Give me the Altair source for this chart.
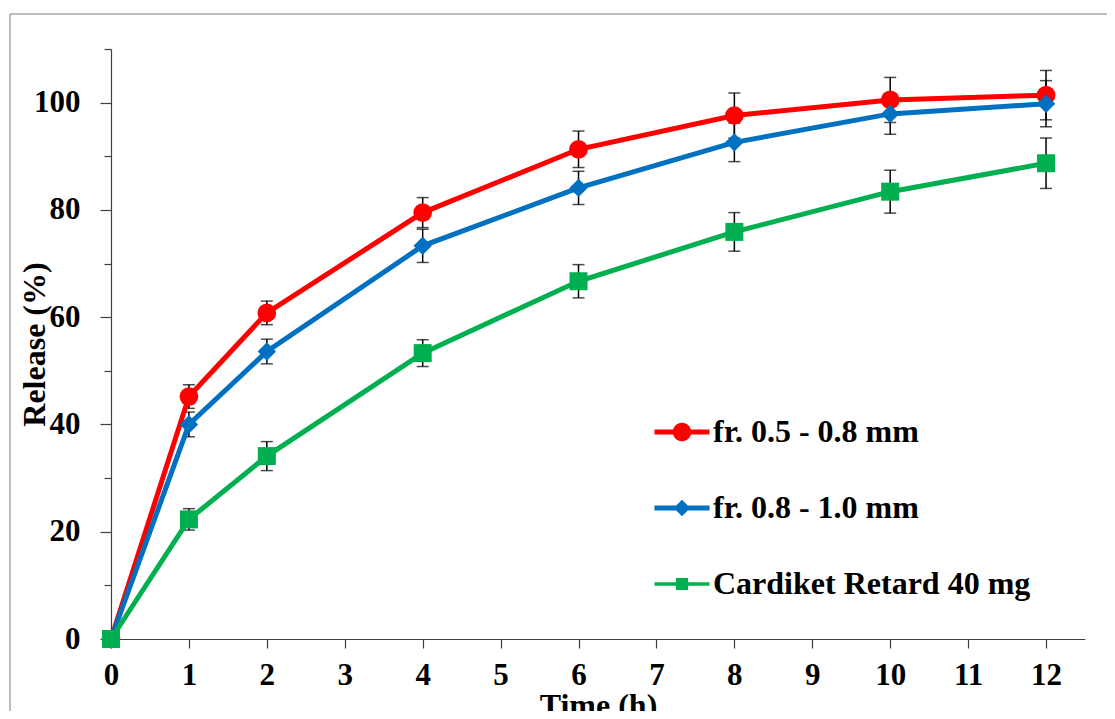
import altair as alt
import pandas as pd

# ---------------- data ----------------
time_h = [0, 1, 2, 4, 6, 8, 10, 12]
series_names = ["fr. 0.5 - 0.8 mm", "fr. 0.8 - 1.0 mm", "Cardiket Retard 40 mg"]
release_05_08 = [0, 45.2, 60.8, 79.5, 91.3, 97.6, 100.5, 101.4]
sd_05_08 = [0, 2.2, 2.2, 2.8, 3.4, 4.2, 4.2, 4.6]
release_08_10 = [0, 40.0, 53.6, 73.3, 84.1, 92.6, 97.9, 99.8]
sd_08_10 = [0, 2.3, 2.3, 3.1, 3.1, 3.6, 3.8, 4.3]
release_cardiket = [0, 22.3, 34.1, 53.3, 66.7, 75.9, 83.4, 88.7]
sd_cardiket = [0, 2.0, 2.7, 2.5, 3.1, 3.6, 4.0, 4.7]

x_tick_values = [0, 0.5, 1, 1.5, 2, 2.5, 3, 3.5, 4, 4.5, 5, 5.5, 6, 6.5, 7, 7.5,
                 8, 8.5, 9, 9.5, 10, 10.5, 11, 11.5, 12, 12.5]
y_tick_values = [0, 10, 20, 30, 40, 50, 60, 70, 80, 90, 100, 110]

# ---------------- styles ----------------
colors = ["#FF0000", "#0070C0", "#00B050"]
point_shapes = ["circle", "diamond", "square"]
point_sizes = [350, 324, 180]
line_widths = [5, 5, 3.5]
legend_shapes = [
    "M-3.06,-0.28H3.06V0.28H-3.06Z M-1.03,0A1.03,1.03 0 1,1 1.03,0A1.03,1.03 0 1,1 -1.03,0Z",
    "M-3.06,-0.28H3.06V0.28H-3.06Z M-0.92,0L0,-0.92L0.92,0L0,0.92Z",
    "M-3.06,-0.19H3.06V0.19H-3.06Z M-0.68,-0.68H0.68V0.68H-0.68Z",
]
FONT = "Liberation Serif"
AXIS_COLOR = "#404040"

rows = []
for name, vals, sds in zip(series_names,
                           [release_05_08, release_08_10, release_cardiket],
                           [sd_05_08, sd_08_10, sd_cardiket]):
    for t, v, s in zip(time_h, vals, sds):
        rows.append({"series": name, "time": t, "release": v, "sd": s,
                     "lo": v - s, "hi": v + s})
df = pd.DataFrame(rows)

x_scale = alt.Scale(domain=[0, 12.5], nice=False, zero=False)
y_scale = alt.Scale(domain=[0, 110], nice=False)

x_axis = alt.Axis(
    values=x_tick_values, format="d",
    labelExpr="datum.value % 1 == 0 ? datum.label : ''",
    title="Time (h)", grid=False,
    tickSize={"condition": {"test": "datum.value % 1 == 0", "value": 9}, "value": 7},
    labelPadding=12, labelFlush=False, labelOverlap=False, labelBound=False,
    labelFontSize=31,
    titleY=76, titleBaseline="alphabetic",
)
y_axis = alt.Axis(
    values=y_tick_values, format="d",
    labelExpr="datum.value % 20 == 0 ? datum.label : ''",
    title="Release (%)", grid=False,
    tickSize={"condition": {"test": "datum.value % 20 == 0", "value": 11}, "value": 7},
    labelPadding=20, labelOverlap=False, labelBound=False, labelFlush=False,
    labelFontSize=31,
    titleAngle=270, titleX=-67, titleY=295, titleBaseline="alphabetic", titleAlign="center",
)

X = alt.X("time:Q", scale=x_scale, axis=x_axis)
Y = alt.Y("release:Q", scale=y_scale, axis=y_axis)

frame = alt.Chart(pd.DataFrame({"k": [0]})).mark_rect(
    fillOpacity=0, stroke="#7f7f7f", strokeWidth=1
).encode(
    x=alt.value(-101), x2=alt.value(1012), y=alt.value(-35), y2=alt.value(700)
)

errbars = alt.Chart(df).transform_filter("datum.sd > 0").mark_errorbar(
    ticks=True, size=12, thickness=1.5, color="black"
).encode(
    x=X,
    y=alt.Y("lo:Q", scale=y_scale, axis=y_axis),
    y2="hi:Q",
)

lines = alt.Chart(df).mark_line().encode(
    x=X, y=Y,
    color=alt.Color("series:N", scale=alt.Scale(domain=series_names, range=colors), legend=None),
    strokeWidth=alt.StrokeWidth("series:N", scale=alt.Scale(domain=series_names, range=line_widths), legend=None),
)

points = alt.Chart(df).mark_point(filled=True, opacity=1).encode(
    x=X, y=Y,
    color=alt.Color("series:N", scale=alt.Scale(domain=series_names, range=colors), legend=None),
    shape=alt.Shape("series:N", scale=alt.Scale(domain=series_names, range=point_shapes), legend=None),
    size=alt.Size("series:N", scale=alt.Scale(domain=series_names, range=point_sizes), legend=None),
)

legend_props = dict(
    title=None, orient="none", legendX=555, legendY=367, padding=0,
    rowPadding=44, symbolSize=324, symbolStrokeWidth=0, symbolOpacity=1,
    labelFont=FONT, labelFontWeight="bold", labelFontSize=32, labelColor="black",
    labelOffset=15, labelLimit=600,
)

legend_layer = alt.Chart(df).transform_filter("false").mark_point(filled=True, opacity=1).encode(
    color=alt.Color("series:N", scale=alt.Scale(domain=series_names, range=colors),
                    legend=alt.Legend(**legend_props)),
    shape=alt.Shape("series:N", scale=alt.Scale(domain=series_names, range=legend_shapes),
                    legend=alt.Legend(**legend_props)),
)

chart = alt.layer(frame, errbars, lines, points, legend_layer).resolve_scale(
    color="independent", shape="independent"
).properties(
    width=974, height=590,
    autosize=alt.AutoSizeParams(type="none"),
    padding={"left": 103, "top": 41, "right": 22, "bottom": 72},
    background="white",
).configure_view(stroke=None).configure_axis(
    labelFont=FONT, labelFontWeight="bold", labelColor="black",
    titleFont=FONT, titleFontWeight="bold", titleFontSize=32, titleColor="black",
    domainColor=AXIS_COLOR, tickColor=AXIS_COLOR, domainWidth=1.2, tickWidth=1.2,
)

chart.save("out.html", embed_options={"renderer": "svg", "actions": False})
